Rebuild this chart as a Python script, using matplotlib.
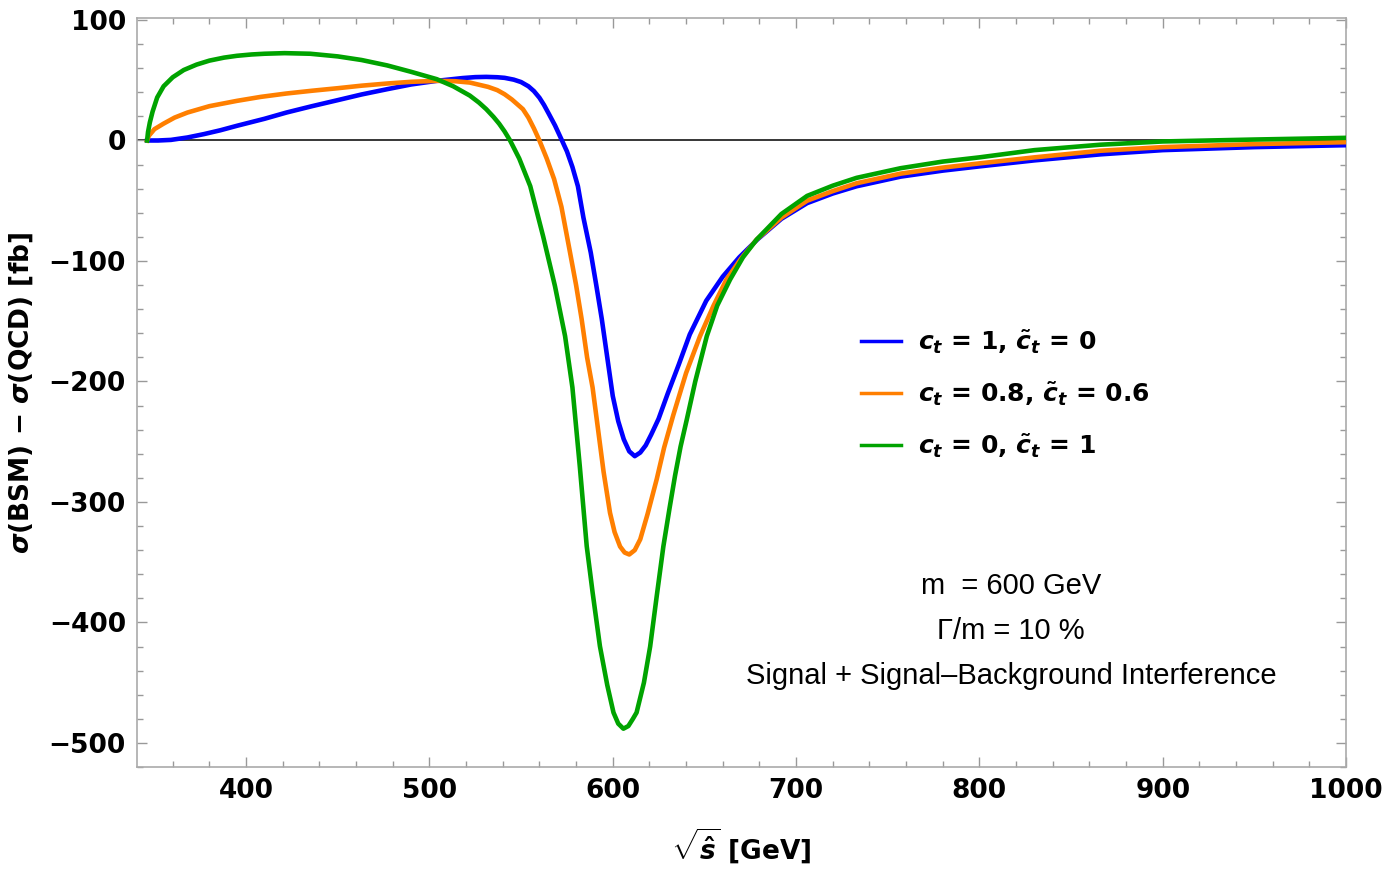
import numpy as np
import matplotlib
matplotlib.use("Agg")
import matplotlib.pyplot as plt
from matplotlib.ticker import MultipleLocator

plt.rcParams['mathtext.fontset'] = 'custom'
plt.rcParams['mathtext.it'] = 'DejaVu Sans:bold:italic'
plt.rcParams['mathtext.rm'] = 'DejaVu Sans:bold'
plt.rcParams['mathtext.bf'] = 'DejaVu Sans:bold'

# ---- data (sqrt(s) in GeV, delta sigma in fb) ----
x_blue = [346, 352, 359, 368, 377, 386, 395, 410, 422, 436, 450, 463, 477, 490, 504,
          518, 525, 531, 537, 541, 546, 550, 554, 557, 560, 562.5, 565, 568.5, 572, 575,
          578, 581, 584, 588, 591, 594, 597, 600, 603, 606, 609, 612, 615, 618, 621,
          625, 630, 636, 642, 651, 660, 669, 679, 692, 706, 720, 733, 757, 780, 800,
          830, 866, 900, 950, 1000]
y_blue = [0, 0, 0.5, 2.5, 5.3, 8.5, 12.2, 18, 23.2, 28.5, 33.5, 38.2, 42.6, 46.5, 49.5,
          51.8, 52.6, 52.8, 52.5, 52, 50.5, 48.5, 45, 41, 35.5, 29.5, 22.5, 12.5, 1, -9,
          -22, -38, -64, -93, -120, -148, -180, -212, -233, -248, -258, -262, -259, -253, -244,
          -231, -210, -186, -161, -133, -113, -97, -82, -65, -52, -44, -38, -30, -25, -21.5,
          -16.5, -11.5, -8, -5.5, -3.9]

x_orange = [346, 347, 350, 355, 361, 368, 380, 395, 408, 422, 436, 450, 463, 477, 490,
            504, 514, 522, 532, 537, 541, 545, 548, 551, 554, 557, 560, 564, 568, 572,
            576.7, 580, 583, 586, 589, 592, 595, 598.5, 601, 604, 606.5, 609, 612, 615,
            619, 624, 628, 633, 640, 647.6, 655, 662, 670, 678.5, 692, 706, 720, 733,
            757, 780, 800, 830, 866, 900, 950, 1000]
y_orange = [0, 4, 9.4, 14, 19, 23.2, 28.5, 32.9, 36.2, 39, 41.3, 43.4, 45.5, 47.3, 48.7,
            49.5, 49.2, 48.1, 44.5, 41.8, 38.4, 34, 30, 26, 19, 10, 0, -15, -32, -55,
            -93, -120, -148, -180, -205, -240, -275, -309, -325, -337, -342, -343.6, -340, -331,
            -310, -281, -255, -228, -193, -162.4, -137, -115.4, -98, -82.2, -64, -50, -42, -35.5,
            -27.5, -22.5, -19, -14, -8.5, -5.5, -3, -1.4]

x_green = [346, 346.5, 347.5, 349, 351.5, 355, 360, 366, 373, 380, 388, 395, 403, 410, 421,
           435, 450, 463, 477, 490, 504, 513, 522, 527, 531, 535, 538, 541, 544, 549,
           555, 562, 568.5, 574, 578, 582, 585.8, 589, 593, 597, 600.4, 603, 605.8, 608.5,
           611, 613, 617, 620.4, 624, 627.6, 631, 634, 637, 640.4, 645, 651.3, 657, 664,
           671, 678.5, 692, 706, 720, 733, 757, 780, 800, 830, 866, 900, 950, 1000]
y_green = [0, 7, 15, 24, 35.7, 45, 52.5, 58.5, 63, 66.3, 68.8, 70.3, 71.4, 72, 72.5,
           72, 69.8, 66.8, 62.3, 57, 50.9, 45, 37.3, 31.5, 26, 19.5, 14, 7.5, 0, -15,
           -37.9, -79.4, -121, -162.4, -205, -270, -336.7, -375, -419.7, -452, -474.8, -484, -488.2, -486,
           -480, -474.8, -450, -420, -378, -337, -305, -278, -254, -231.5, -200, -162.4, -137, -115.4,
           -97, -82.2, -61, -46, -37.5, -31, -23, -17.5, -14, -8, -3.5, -0.8, 0.8, 2.2]

labels = [r'$c_t$ = 1, $\tilde{c}_t$ = 0',
          r'$c_t$ = 0.8, $\tilde{c}_t$ = 0.6',
          r'$c_t$ = 0, $\tilde{c}_t$ = 1']
colors = ['#0000FF', '#FF7F00', '#00A300']

fig = plt.figure(figsize=(13.91, 8.72), dpi=100)
ax = fig.add_axes([0.0985, 0.1204, 0.8692, 0.859])

ax.axhline(0, color='black', lw=1.1, zorder=1)
for xs, ys, c, lab in zip([x_blue, x_orange, x_green], [y_blue, y_orange, y_green], colors, labels):
    ax.plot(xs, ys, color=c, lw=3.3, label=lab, solid_joinstyle='round', zorder=3)

ax.set_xlim(340.5, 1000)
ax.set_ylim(-520, 101.7)
ax.xaxis.set_major_locator(MultipleLocator(100))
ax.xaxis.set_minor_locator(MultipleLocator(20))
ax.yaxis.set_major_locator(MultipleLocator(100))
ax.yaxis.set_minor_locator(MultipleLocator(20))
ax.tick_params(which='both', direction='in', top=True, right=True, color='#999999')
ax.tick_params(which='major', length=7, width=1)
ax.tick_params(which='minor', length=4, width=1)
ax.tick_params(axis='both', labelsize=19, pad=8)
for lab in ax.get_xticklabels() + ax.get_yticklabels():
    lab.set_fontweight('bold')
for sp in ax.spines.values():
    sp.set_color('#aaaaaa')
    sp.set_linewidth(1.2)

ax.set_xlabel(r'$\sqrt{\hat{s}}$ [GeV]', fontsize=19, fontweight='bold', labelpad=16)
ax.set_ylabel(r'$\sigma$(BSM) $-$ $\sigma$(QCD) [fb]', fontsize=19, fontweight='bold', labelpad=10)

leg = ax.legend(loc='upper left', bbox_to_anchor=(0.58, 0.617), frameon=False,
                fontsize=18, handlelength=1.6, handletextpad=0.7, labelspacing=0.95)
for t in leg.get_texts():
    t.set_fontweight('bold')
for h in leg.get_lines():
    h.set_linewidth(2.5)

txt = dict(family='Liberation Sans', fontsize=21, ha='center', va='center', transform=ax.transAxes)
ax.text(0.723, 0.242, 'm  = 600 GeV', **txt)
ax.text(0.723, 0.181, '\u0393/m = 10 %', **txt)
ax.text(0.723, 0.121, 'Signal + Signal\u2013Background Interference', **txt)

fig.savefig('out.png', dpi=100)
